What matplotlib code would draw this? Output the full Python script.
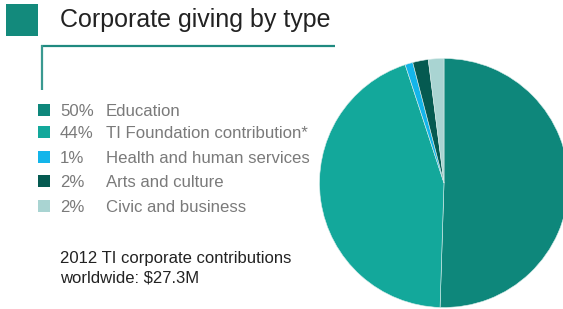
import matplotlib
matplotlib.use("Agg")
import matplotlib.pyplot as plt
from matplotlib.patches import Rectangle
from matplotlib.lines import Line2D

title = "Corporate giving by type"
categories = ["Education", "TI Foundation contribution*", "Health and human services",
              "Arts and culture", "Civic and business"]
values = [50, 44, 1, 2, 2]
pct_labels = ["50%", "44%", "1%", "2%", "2%"]
colors = ["#0e877b", "#13a89b", "#13b5ea", "#055a51", "#a9d4d2"]
footer_lines = ["2012 TI corporate contributions", "worldwide: $27.3M"]

W, H = 563, 309
fig = plt.figure(figsize=(W / 100, H / 100), dpi=100)
fig.patch.set_facecolor("white")
plt.rcParams['font.family'] = ['Liberation Sans', 'DejaVu Sans']

# overlay axes in pixel coordinates (y downward)
ax = fig.add_axes([0, 0, 1, 1])
ax.set_xlim(0, W)
ax.set_ylim(H, 0)
ax.axis("off")

# title square and text
ax.add_patch(Rectangle((6, 4), 31.5, 31.5, color="#138a7c", lw=0))
ax.text(60, 20, title, fontsize=18, color="#222222", va="center", ha="left")

# bracket lines
ax.add_line(Line2D([41, 335], [45.5, 45.5], color="#1f8a80", lw=1.6, solid_capstyle="butt"))
ax.add_line(Line2D([41.5, 41.5], [45, 90], color="#3a9990", lw=1.6, solid_capstyle="butt"))

# legend
row_top = [104.3, 126.3, 150.8, 175.2, 200]
for y, c, p, lab in zip(row_top, colors, pct_labels, categories):
    ax.add_patch(Rectangle((38.3, y), 11.7, 11.7, color=c, lw=0))
    ax.text(60, y + 12, p, fontsize=12.1, color="#7a7a7a", va="baseline", ha="left")
    ax.text(106, y + 12, lab, fontsize=12.1, color="#7a7a7a", va="baseline", ha="left")

for yb, line in zip([263.5, 282.5], footer_lines):
    ax.text(60, yb, line, fontsize=12, color="#222222", va="baseline", ha="left")

# pie
cx, cy, r = 444, 183, 124.5
pax = fig.add_axes([(cx - r) / W, (H - cy - r) / H, 2 * r / W, 2 * r / H])
pax.pie(values, colors=colors, startangle=90, counterclock=False,
        wedgeprops=dict(linewidth=0.4, edgecolor="#d8ecea"))
pax.set_xlim(-1, 1)
pax.set_ylim(-1, 1)
pax.axis("off")

fig.savefig("out.png", dpi=100, facecolor="white")
